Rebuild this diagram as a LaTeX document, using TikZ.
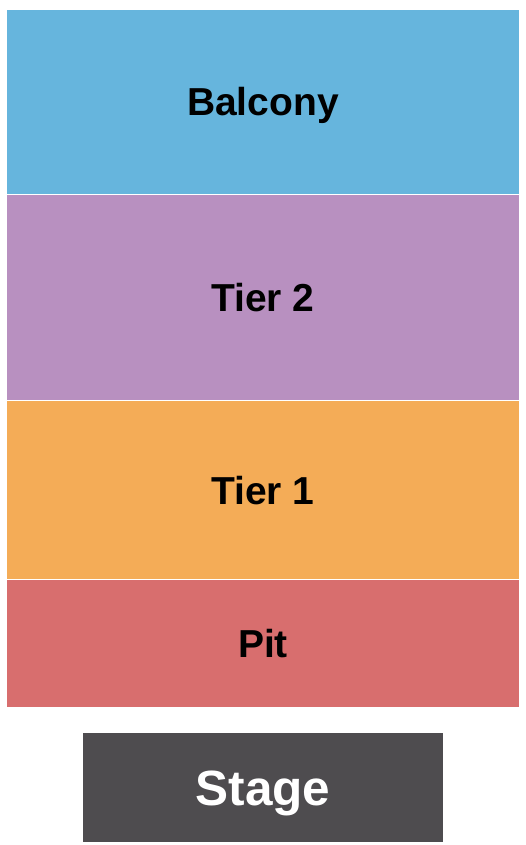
\documentclass[tikz,border=0pt]{standalone}
\usepackage{fontspec}
\setmainfont{Liberation Sans}
\usetikzlibrary{positioning}
\definecolor{balconyblue}{HTML}{66B5DD}
\definecolor{tiertwo}{HTML}{B890C0}
\definecolor{tierone}{HTML}{F4AC57}
\definecolor{pitred}{HTML}{D86E6E}
\definecolor{stagegray}{HTML}{4E4C4F}
\tikzset{
  section/.style={rectangle, inner sep=0pt, minimum width=512pt, text height=28pt, text depth=0pt, font=\fontsize{39}{39}\selectfont\bfseries, text=black},
  stagebox/.style={rectangle, inner sep=0pt, minimum width=360pt, minimum height=109pt, text height=35.4pt, text depth=0pt, fill=stagegray, text=white, font=\fontsize{49.5}{49.5}\selectfont\bfseries}
}
\begin{document}
\begin{tikzpicture}[x=1pt, y=-1pt]
        \useasboundingbox (0,0) rectangle (525,845);

        % Secciones del recinto
        \node[section, fill=balconyblue, minimum height=183.5pt] (balcony) at (263,101.75) {Balcony};
        \node[section, fill=tiertwo, minimum height=205.5pt] (tier2) at (263,297.25) {Tier 2};
        \node[section, fill=tierone, minimum height=178pt] (tier1) at (263,490) {Tier 1};
        \node[section, fill=pitred, minimum height=127pt] (pit) at (263,643.5) {Pit};

        % Escenario
        \node[stagebox] (stage) at (263,787.5) {Stage};

    \end{tikzpicture}
\end{document}
